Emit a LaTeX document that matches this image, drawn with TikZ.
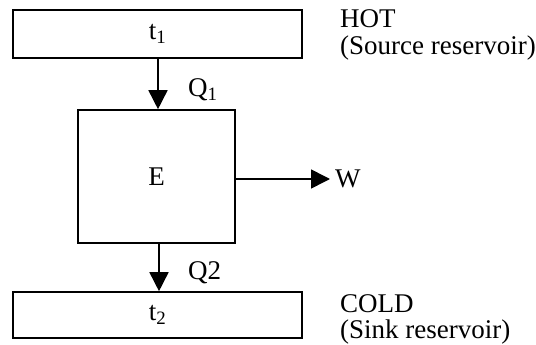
\documentclass[tikz,border=0pt]{standalone}
\usepackage{fontspec}
\setmainfont{Liberation Serif}
\usetikzlibrary{arrows.meta}
\tikzset{
  resbox/.style={draw, line width=1.6pt, inner sep=0pt, minimum width=289pt, minimum height=#1},
  enginebox/.style={draw, line width=1.6pt, inner sep=0pt, minimum width=157pt, minimum height=133pt},
  flow/.style={line width=1.6pt, -{Triangle[length=19pt,width=19pt]}},
  lbl/.style={inner sep=0pt, anchor=base west}
}
\begin{document}
\begin{tikzpicture}[x=1pt,y=-1pt,font=\fontsize{27}{31}\selectfont]
\useasboundingbox (0,0) rectangle (536,345);
\node[resbox=48pt] (top) at (157.5,34) {t\textsubscript{1}};
\node[enginebox] (E) at (156.5,176.5) {E};
\node[resbox=46pt] (bot) at (157.5,315) {t\textsubscript{2}};
\node[inner sep=0pt, anchor=west] (W) at (335,179) {W};
\coordinate (Wtip) at (330,179);
\node[lbl] (hot) at (340,28) {HOT};
\node[lbl] (src) at (340,55) {(Source reservoir)};
\node[lbl] (cold) at (340,312) {COLD};
\node[lbl] (sink) at (340,338) {(Sink reservoir)};
\node[lbl] (q1) at (188,97) {Q\textsubscript{1}};
\node[lbl] (q2) at (188,279) {Q2};
\draw[flow] (top.south -| 158,0) -- (E.north -| 158,0);
\draw[flow] (E.south -| 159,0) -- (bot.north -| 159,0);
\draw[flow] (E.east |- Wtip) -- (Wtip);
\end{tikzpicture}
\end{document}
